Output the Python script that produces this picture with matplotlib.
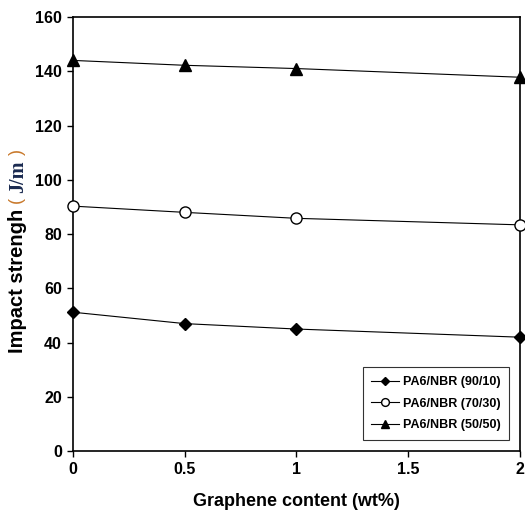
import numpy as np
import matplotlib
matplotlib.use("Agg")
from matplotlib import pyplot as plt

# data
graphene = [0, 0.5, 1, 2]
pa6_90_10 = [51.2, 47.0, 45.0, 42.0]
pa6_70_30 = [90.3, 88.0, 85.8, 83.4]
pa6_50_50 = [144.0, 142.2, 141.0, 137.8]
labels = ["PA6/NBR (90/10)", "PA6/NBR (70/30)", "PA6/NBR (50/50)"]
xticks = [0, 0.5, 1, 1.5, 2]
xticklabels = ["0", "0.5", "1", "1.5", "2"]
yticks = [0, 20, 40, 60, 80, 100, 120, 140, 160]

plt.rcParams['font.family'] = ['Liberation Sans', 'DejaVu Sans']
plt.rcParams['font.weight'] = 'bold'

fig = plt.figure(figsize=(5.25, 5.15), dpi=100)
ax = fig.add_axes([0.139, 0.124, 0.851, 0.843])

ax.plot(graphene, pa6_90_10, color='black', lw=0.8, marker='D', ms=6,
        mfc='black', mec='black', label=labels[0], clip_on=False, zorder=3)
ax.plot(graphene, pa6_70_30, color='black', lw=0.8, marker='o', ms=8,
        mfc='white', mec='black', mew=1.0, label=labels[1], clip_on=False, zorder=3)
ax.plot(graphene, pa6_50_50, color='black', lw=0.8, marker='^', ms=8,
        mfc='black', mec='black', label=labels[2], clip_on=False, zorder=3)

ax.set_xlim(0, 2)
ax.set_ylim(0, 160)
ax.set_xticks(xticks)
ax.set_xticklabels(xticklabels)
ax.set_yticks(yticks)
ax.tick_params(direction='out', length=4, width=1, labelsize=11.5, pad=4)
for s in ax.spines.values():
    s.set_linewidth(1.2)

ax.set_xlabel("Graphene content (wt%)", fontsize=13, fontweight='bold', labelpad=11)

# y label in pieces: sans text, orange brackets, serif unit
t1 = fig.text(0.034, 0.3146, "Impact strengh", rotation=90, fontsize=14.5,
              fontweight='bold', ha='center', va='bottom')
t2 = ax.annotate(" ( ", xy=(0.5, 1), xycoords=t1, rotation=90, fontsize=13,
                 fontweight='normal', color='#c8782a', ha='center', va='bottom')
t3 = ax.annotate("J/m", xy=(0.5, 1), xycoords=t2, rotation=90, fontsize=14.5,
                 fontweight='bold', color='#1a2a50', ha='center', va='bottom',
                 family=['Liberation Serif'])
t4 = ax.annotate(" ) ", xy=(0.5, 1), xycoords=t3, rotation=90, fontsize=13,
                 fontweight='normal', color='#c8782a', ha='center', va='bottom')

leg = ax.legend(loc='lower right', bbox_to_anchor=(0.99, 0.012), fontsize=9,
                frameon=True, fancybox=False, edgecolor='black',
                handlelength=2.2, markerscale=0.7, borderpad=0.7,
                labelspacing=0.75, handletextpad=0.3)
leg.get_frame().set_linewidth(0.8)

fig.savefig("out.png", dpi=100)
